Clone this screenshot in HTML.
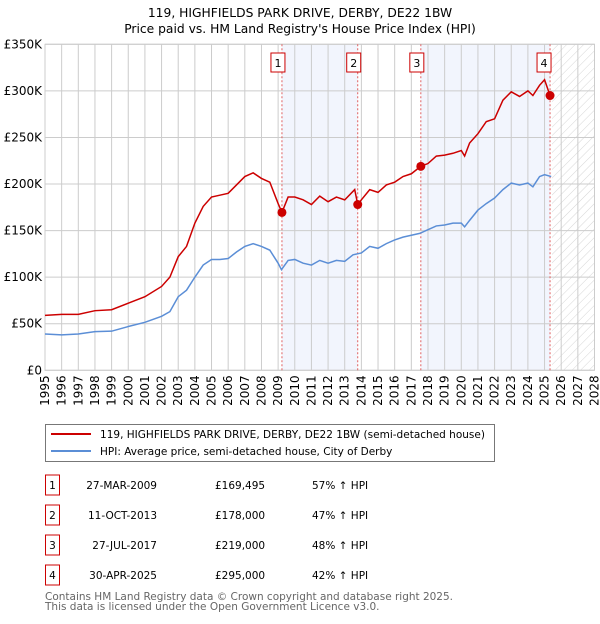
<!DOCTYPE html>
<html><head><meta charset="utf-8"><style>
body{margin:0;width:600px;height:620px;background:#fff;font-family:"DejaVu Sans","Liberation Sans",sans-serif;overflow:hidden}
svg text{font-family:"DejaVu Sans","Liberation Sans",sans-serif}
</style></head><body>
<svg id="c" width="600" height="620" xmlns="http://www.w3.org/2000/svg"></svg>
<script>
const hpiYears=[1995,1996,1997,1998,1999,2000,2001,2002,2002.5,2003,2003.5,2004,2004.5,2005,2005.5,2006,2006.5,2007,2007.5,2008,2008.5,2009,2009.2,2009.6,2010,2010.5,2011,2011.5,2012,2012.5,2013,2013.5,2014,2014.5,2015,2015.5,2016,2016.5,2017,2017.5,2018,2018.5,2019,2019.5,2020,2020.2,2020.5,2021,2021.5,2022,2022.5,2023,2023.5,2024,2024.3,2024.7,2025,2025.4];
const hpiValues=[39,38,39,41.5,42,47,51.5,58,63,79,86,100,113,119,119,120,127,133,136,133,129,115,108,118,119,115,113,118,115,118,117,124,126,133,131,136,140,143,145,147,151,155,156,158,158,154,161,172,179,185,194,201,199,201,197,208,210,208];
const priceYears=[1995,1996,1997,1998,1999,2000,2001,2002,2002.5,2003,2003.5,2004,2004.5,2005,2005.5,2006,2006.5,2007,2007.5,2008,2008.5,2009,2009.23,2009.6,2010,2010.5,2011,2011.5,2012,2012.5,2013,2013.6,2013.78,2014,2014.5,2015,2015.5,2016,2016.5,2017,2017.57,2018,2018.5,2019,2019.5,2020,2020.2,2020.5,2021,2021.5,2022,2022.5,2023,2023.5,2024,2024.3,2024.7,2025,2025.33,2025.45];
const priceValues=[59,60,60,64,65,72,79,90,100,122,133,158,176,186,188,190,199,208,212,206,202,179,169.5,186,186,183,178,187,181,186,183,194,178,183,194,191,199,202,208,211,219,222,230,231,233,236,230,244,254,267,270,290,299,294,300,295,306,312,295,296];
const saleYears=[2009.23,2013.78,2017.57,2025.33];
const saleValues=[169.495,178,219,295];
const saleLabels=["1","2","3","4"];
const saleDates=["27-MAR-2009","11-OCT-2013","27-JUL-2017","30-APR-2025"];
const salePrices=["£169,495","£178,000","£219,000","£295,000"];
const salePct=["57% ↑ HPI","47% ↑ HPI","48% ↑ HPI","42% ↑ HPI"];
const yTicks=[0,50,100,150,200,250,300,350];
const yTickLabels=["£0","£50K","£100K","£150K","£200K","£250K","£300K","£350K"];
const xTicks=[1995,1996,1997,1998,1999,2000,2001,2002,2003,2004,2005,2006,2007,2008,2009,2010,2011,2012,2013,2014,2015,2016,2017,2018,2019,2020,2021,2022,2023,2024,2025,2026,2027,2028];
const NS="http://www.w3.org/2000/svg";
const svg=document.getElementById('c');
const L=45,R=594.5,T=44.3,B=370.3,X0=1995,X1=2028,FUT=2025.45;
const xs=v=>L+(v-X0)/(X1-X0)*(R-L);
const ys=v=>B-v/350*(B-T);
function mk(t,a,p){const e=document.createElementNS(NS,t);for(const k in a)e.setAttribute(k,a[k]);(p||svg).appendChild(e);return e;}
const defs=mk('defs',{});
const pat=mk('pattern',{id:'hatch',width:6,height:6,patternUnits:'userSpaceOnUse',patternTransform:'rotate(45)'},defs);
mk('line',{x1:0,y1:0,x2:0,y2:6,stroke:'#ccc','stroke-width':0.8},pat);
let s=mk('rect',{x:xs(saleYears[0]),y:T,width:xs(saleYears[1])-xs(saleYears[0]),height:B-T,fill:'#f2f5fd'});

s=mk('rect',{x:xs(saleYears[2]),y:T,width:xs(saleYears[3])-xs(saleYears[2]),height:B-T,fill:'#f2f5fd'});

s=mk('rect',{x:xs(FUT),y:T,width:R-xs(FUT),height:B-T,fill:'url(#hatch)'});

xTicks.forEach(t=>{mk('line',{x1:xs(t),x2:xs(t),y1:T,y2:B,stroke:'#ccc','stroke-width':1});
 const tx=mk('text',{x:0,y:0,transform:`translate(${xs(t)+4},${B+5}) rotate(-90)`,'text-anchor':'end','font-size':12,fill:'#000'});tx.textContent=t;
 });
yTicks.forEach((t,i)=>{mk('line',{x1:L,x2:R,y1:ys(t),y2:ys(t),stroke:'#ccc','stroke-width':1});
 const tx=mk('text',{x:L-3,y:ys(t)+4,'text-anchor':'end','font-size':12,fill:'#000'});tx.textContent=yTickLabels[i];
 });
mk('rect',{x:L,y:T,width:R-L,height:B-T,fill:'none',stroke:'#ccc'});
saleYears.forEach((y,i)=>{mk('line',{x1:xs(y),x2:xs(y),y1:T,y2:B,stroke:'#e06060','stroke-dasharray':'2,2','stroke-width':1});
 const g=mk('g',{});
 mk('rect',{x:xs(y)-11+(i==3?-2:0),y:53,width:14,height:19,fill:'#fff',stroke:'#c00'},g);
 const t=mk('text',{x:xs(y)-4+(i==3?-2:0),y:67,'text-anchor':'middle','font-size':11},g);t.textContent=saleLabels[i];});
const hp=mk('polyline',{points:hpiYears.map((y,i)=>xs(y)+','+ys(hpiValues[i])).join(' '),fill:'none',stroke:'#5b8ed6','stroke-width':1.5});

const pp=mk('polyline',{points:priceYears.map((y,i)=>xs(y)+','+ys(priceValues[i])).join(' '),fill:'none',stroke:'#cc0000','stroke-width':1.5});

saleYears.forEach((y,i)=>{const c=mk('circle',{cx:xs(y),cy:ys(saleValues[i]),r:4.5,fill:'#cc0000'});
 });
let t=mk('text',{x:300,y:17,'text-anchor':'middle','font-size':12.3});t.textContent='119, HIGHFIELDS PARK DRIVE, DERBY, DE22 1BW';

t=mk('text',{x:300,y:33,'text-anchor':'middle','font-size':12.3});t.textContent="Price paid vs. HM Land Registry's House Price Index (HPI)";

const lg=mk('g',{});
mk('rect',{x:45.5,y:424.5,width:449,height:37,fill:'#fff',stroke:'#777'},lg);
mk('line',{x1:51,x2:91,y1:434,y2:434,stroke:'#cc0000','stroke-width':2},lg);
mk('line',{x1:51,x2:91,y1:451,y2:451,stroke:'#5b8ed6','stroke-width':2},lg);
t=mk('text',{x:100,y:438,'font-size':10.5,textLength:385},lg);t.textContent='119, HIGHFIELDS PARK DRIVE, DERBY, DE22 1BW (semi-detached house)';
t=mk('text',{x:100,y:455,'font-size':10.5},lg);t.textContent='HPI: Average price, semi-detached house, City of Derby';
saleLabels.forEach((l,i)=>{const y=483+i*30;const g=mk('g',{});
 mk('rect',{x:45.5,y:y-8,width:14,height:20,fill:'#fff',stroke:'#c00'},g);
 let a=mk('text',{x:52.5,y:y+6,'text-anchor':'middle','font-size':10.5},g);a.textContent=l;
 a=mk('text',{x:157,y:y+6,'text-anchor':'end','font-size':10.5},g);a.textContent=saleDates[i];
 a=mk('text',{x:215,y:y+6,'font-size':10.5},g);a.textContent=salePrices[i];
 a=mk('text',{x:312,y:y+6,'font-size':10.5},g);a.textContent=salePct[i];});
t=mk('text',{x:45,y:600,'font-size':10.5,fill:'#666',textLength:408});t.textContent='Contains HM Land Registry data © Crown copyright and database right 2025.';

t=mk('text',{x:45,y:610,'font-size':10.5,fill:'#666'});t.textContent='This data is licensed under the Open Government Licence v3.0.';

</script>
</body></html>
